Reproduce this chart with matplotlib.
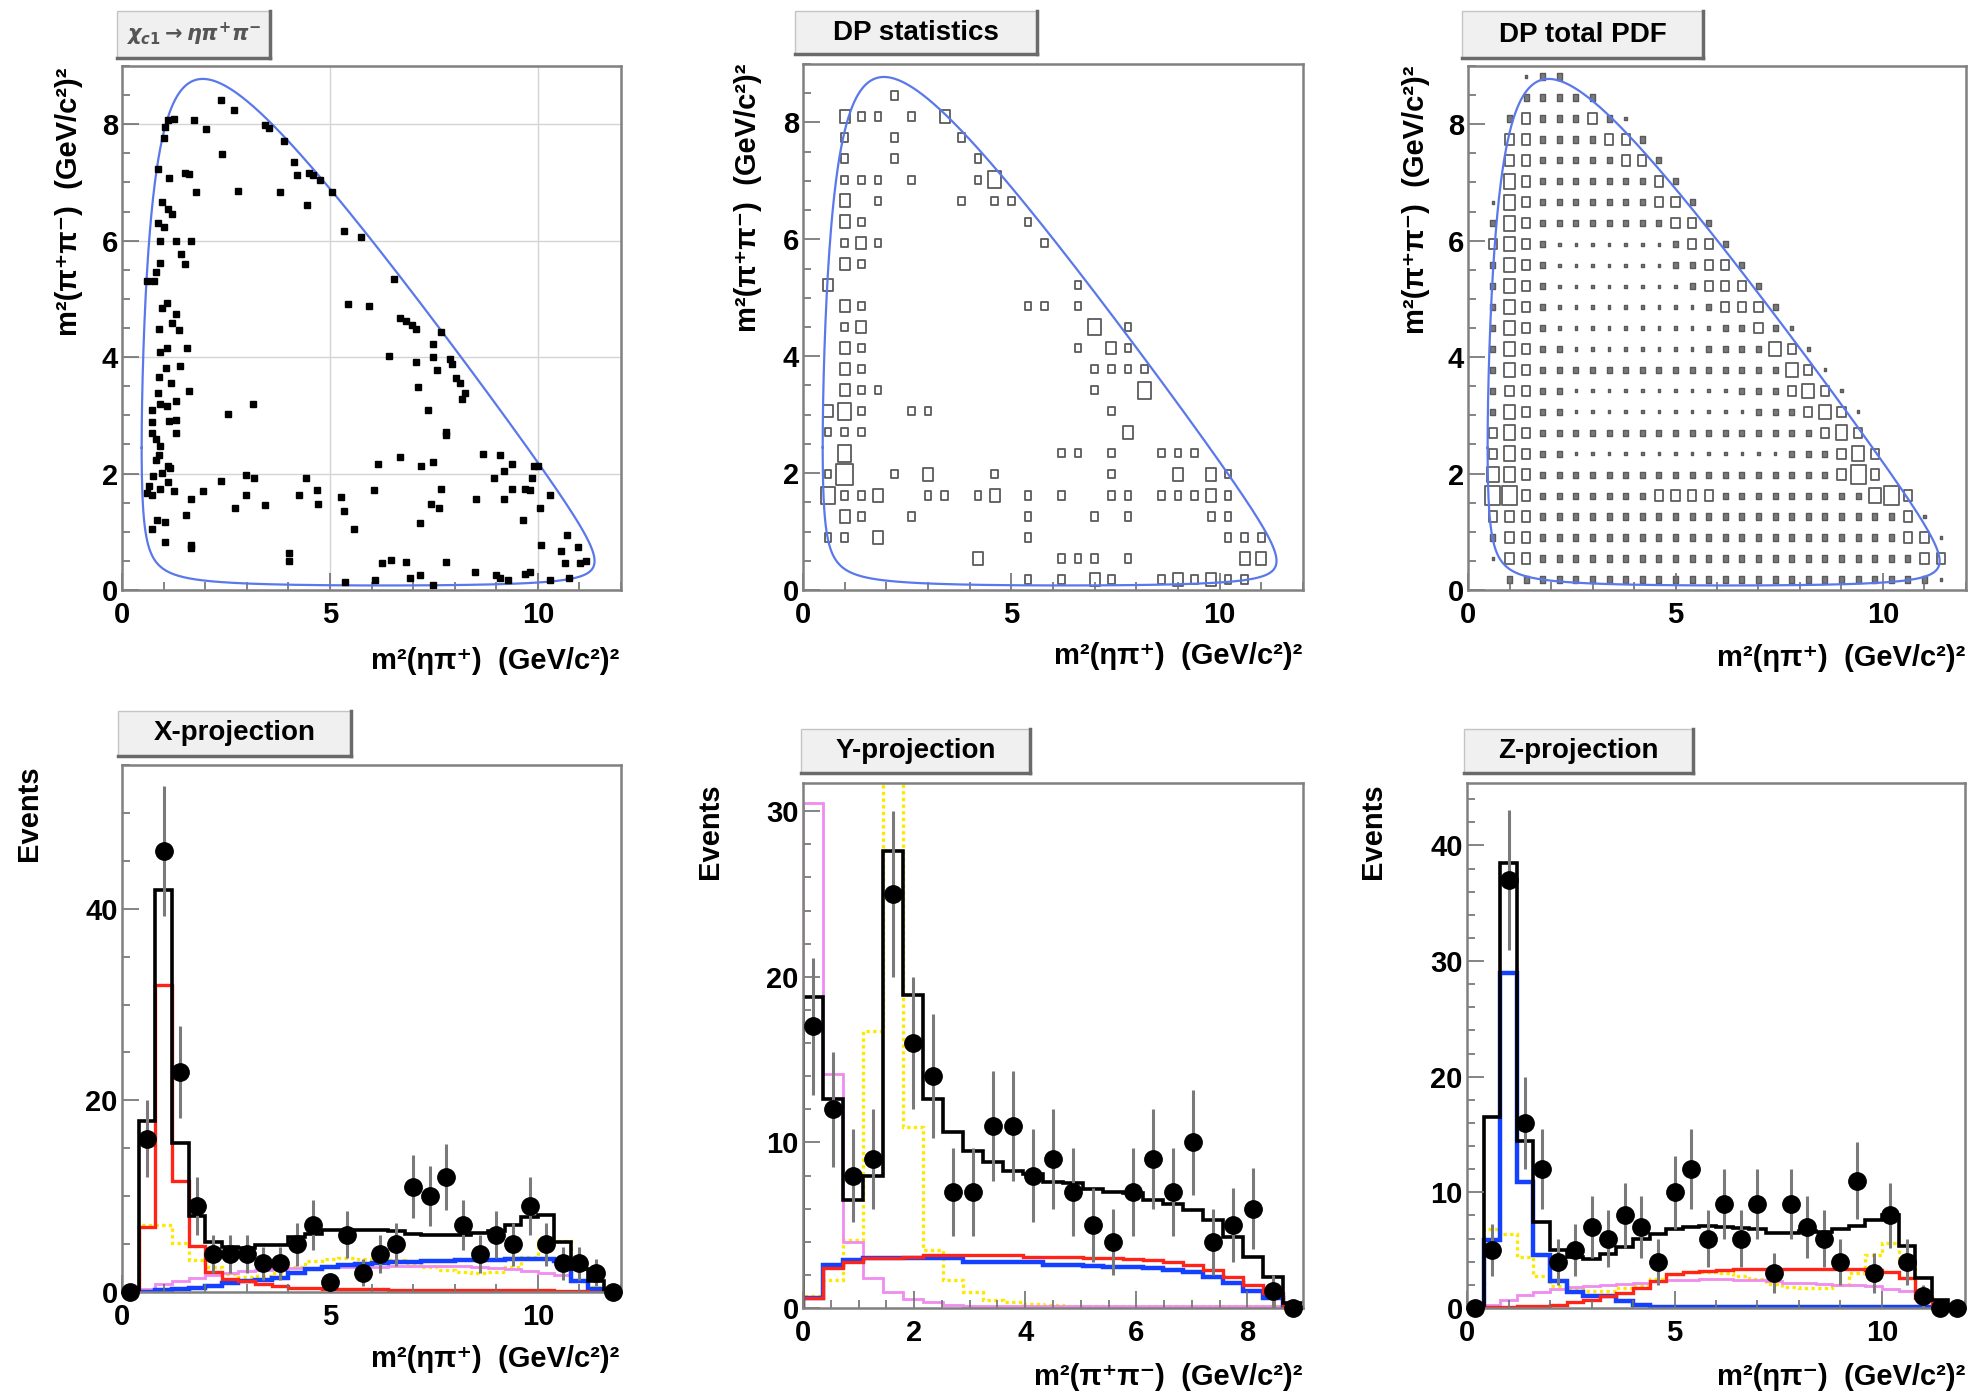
import numpy as np
import matplotlib.pyplot as plt
from matplotlib.patches import Rectangle
from matplotlib.collections import PatchCollection
from matplotlib.lines import Line2D
from matplotlib.ticker import MultipleLocator

plt.rcParams['font.family'] = ['Liberation Sans', 'DejaVu Sans']
plt.rcParams['font.weight'] = 'bold'
plt.rcParams['mathtext.fontset'] = 'dejavusans'

W, H = 1973, 1398

# -------------------------------
# masses for the Dalitz boundary (GeV/c^2)
# -------------------------------
M_CHIC1 = 3.51067
M_ETA = 0.547862
M_PI = 0.139570

# -------------------------------
# selected events: (m2(eta pi+), m2(pi+ pi-))
# -------------------------------
dalitz_events = [
    (2.37, 8.42), (2.69, 8.25), (1.74, 8.08), (2.02, 7.91), (1.11, 8.08), (1.26, 8.09), (1.04, 7.96), (1.01, 7.77),
    (3.43, 7.98), (3.54, 7.94), (3.89, 7.71), (2.40, 7.49), (4.14, 7.35), (4.22, 7.12), (4.60, 7.12), (4.75, 7.04),
    (4.49, 7.16), (0.86, 7.23), (1.14, 7.08), (1.52, 7.16), (1.60, 7.14), (1.79, 6.83), (2.78, 6.85), (3.79, 6.83),
    (4.44, 6.62), (5.05, 6.83), (0.96, 6.66), (1.11, 6.54), (1.21, 6.46), (0.86, 6.31), (1.01, 6.23), (0.91, 6.00),
    (1.31, 6.00), (1.67, 6.00), (1.41, 5.77), (1.52, 5.60), (0.91, 5.62), (0.81, 5.47), (0.76, 5.31), (0.61, 5.30),
    (0.96, 4.85), (1.09, 4.93), (1.29, 4.74), (1.21, 4.58), (1.36, 4.47), (0.89, 4.48), (0.91, 4.08), (1.09, 4.16),
    (1.57, 4.16), (1.39, 3.85), (1.06, 3.82), (0.89, 3.66), (1.19, 3.55), (1.62, 3.41), (0.86, 3.39), (0.71, 3.10),
    (0.91, 3.20), (1.09, 3.16), (1.31, 3.24), (1.13, 2.91), (1.29, 2.92), (0.73, 2.89), (0.71, 2.70), (0.81, 2.59),
    (0.91, 2.47), (1.31, 2.70), (0.89, 2.32), (0.81, 2.24), (1.11, 2.13), (1.16, 2.09), (0.96, 2.01), (0.74, 1.95),
    (1.11, 1.86), (0.66, 1.78), (0.61, 1.67), (0.71, 1.63), (0.91, 1.74), (1.24, 1.70), (1.67, 1.57), (1.94, 1.70),
    (2.37, 1.87), (2.98, 1.97), (3.18, 1.92), (2.98, 1.63), (3.43, 1.46), (2.71, 1.40), (1.55, 1.28), (0.83, 1.21),
    (1.04, 1.17), (0.71, 1.05), (1.03, 0.82), (1.67, 0.77), (1.67, 0.72), (4.01, 0.63), (4.02, 0.49), (2.56, 3.02),
    (3.16, 3.20), (4.42, 1.93), (4.70, 1.72), (4.26, 1.63), (4.72, 1.47), (5.27, 1.59), (5.35, 1.36), (5.59, 1.05),
    (5.37, 0.13), (6.06, 1.72), (6.16, 2.17), (6.69, 2.28), (7.20, 2.13), (7.47, 2.20), (7.68, 1.74), (7.42, 1.47),
    (7.63, 1.40), (7.17, 1.15), (7.78, 0.48), (6.26, 0.46), (6.46, 0.51), (6.82, 0.48), (6.92, 0.21), (7.17, 0.25),
    (7.47, 0.09), (6.09, 0.18), (8.48, 0.31), (8.99, 0.25), (9.09, 0.21), (9.29, 0.17), (9.70, 0.28), (9.80, 0.31),
    (10.30, 0.18), (10.76, 0.21), (8.52, 1.57), (8.69, 2.33), (8.94, 1.93), (9.09, 2.32), (9.19, 2.05), (9.19, 1.57),
    (9.39, 2.17), (9.39, 1.73), (9.70, 1.74), (9.80, 1.72), (9.85, 1.93), (9.90, 2.13), (10.00, 2.13), (9.65, 1.21),
    (10.05, 1.40), (10.30, 1.64), (10.08, 0.77), (10.56, 0.67), (10.71, 0.95), (10.66, 0.46), (10.96, 0.74),
    (11.01, 0.46), (11.16, 0.49), (5.33, 6.17), (5.74, 6.06), (6.55, 5.35), (5.43, 4.91), (5.94, 4.88), (6.69, 4.68),
    (6.82, 4.62), (6.97, 4.55), (7.07, 4.48), (7.66, 4.43), (7.47, 4.22), (7.47, 4.01), (7.58, 3.78), (6.41, 4.02),
    (7.07, 3.92), (7.12, 3.49), (7.37, 3.09), (7.80, 2.72), (7.88, 3.97), (7.93, 3.89), (8.03, 3.64), (8.13, 3.55),
    (8.26, 3.39), (8.18, 3.28), (7.78, 2.66),
]

# -------------------------------
# DP total PDF: box level per bin (30 x-bins of 0.4, 25 y-bins of 0.36), top row first
# -------------------------------
pdf_rows = [
    "000122000000000000000000000000",
    "000222220000000000000000000000",
    "002322232100000000000000000000",
    "003322223320000000000000000000",
    "003322222332000000000000000000",
    "004322222223200000000000000000",
    "014322222223320000000000000000",
    "024322222222332000000000000000",
    "034321111111233200000000000000",
    "024321111111223320000000000000",
    "024321111111123332000000000000",
    "024321111111112333200000000000",
    "024321111111111223210000000000",
    "024322111111112222431000000000",
    "024322222222222222243100000000",
    "023322111111111122234310000000",
    "024322111111111112223431000000",
    "034322222222222222222343000000",
    "034322111111111111122234300000",
    "044322222222222222222235300000",
    "055322222223333222222222453000",
    "033322222222222222222222223100",
    "023322222222222222222222223310",
    "013322222222222222222222222330",
    "002222222222222222222222222210",
]
pdf_box_size = {1: 0.15, 2: 0.3, 3: 0.5, 4: 0.7, 5: 0.9}

# -------------------------------
# X projection: m2(eta pi+), 30 bins in 0..12
# -------------------------------
x_data = [0, 16, 46, 23, 9, 4, 4, 4, 3, 3, 5, 7, 1, 6, 2, 4, 5, 11, 10, 12, 7, 4, 6, 5, 9, 5, 3, 3, 2, 0]
x_total = [0, 17.8, 42.0, 15.6, 7.9, 5.2, 4.7, 4.6, 4.9, 4.9, 5.7, 6.1, 6.5, 6.5, 6.5, 6.5, 6.4, 6.1, 6.0, 6.0,
           5.9, 6.2, 6.4, 7.0, 7.8, 8.0, 5.2, 2.4, 1.2, 0.1]
x_red = [0, 6.8, 32.0, 11.6, 4.8, 2.1, 1.4, 1.2, 0.8, 0.6, 0.45, 0.4, 0.35, 0.3, 0.3, 0.3, 0.25, 0.25, 0.2, 0.2,
         0.2, 0.2, 0.2, 0.2, 0.2, 0.2, 0.15, 0.15, 0, 0]
x_blue = [0, 0.05, 0.2, 0.3, 0.4, 0.6, 0.9, 1.1, 1.3, 1.5, 2.0, 2.4, 2.6, 2.8, 2.9, 3.0, 3.1, 3.15, 3.2, 3.25,
          3.3, 3.3, 3.35, 3.4, 3.4, 3.4, 3.2, 1.2, 0.3, 0]
x_yellow = [0, 7.0, 7.0, 5.1, 3.3, 2.6, 1.9, 1.6, 1.7, 2.0, 2.6, 3.2, 3.4, 3.5, 3.4, 3.3, 3.3, 3.0, 2.6, 2.3,
            2.1, 2.0, 2.1, 2.6, 3.7, 5.3, 5.3, 2.6, 0.5, 0]
x_violet = [0, 0.3, 0.8, 1.2, 1.5, 1.8, 2.0, 2.2, 2.3, 2.4, 2.5, 2.5, 2.6, 2.6, 2.6, 2.6, 2.7, 2.7, 2.7, 2.7,
            2.7, 2.6, 2.5, 2.4, 2.2, 2.0, 1.8, 1.2, 0.4, 0]

# -------------------------------
# Y projection: m2(pi+ pi-), 25 bins in 0..9
# -------------------------------
y_data = [17, 12, 8, 9, 25, 16, 14, 7, 7, 11, 11, 8, 9, 7, 5, 4, 7, 9, 7, 10, 4, 5, 6, 1, 0]
y_total = [18.8, 12.6, 6.5, 8.0, 27.6, 18.9, 12.6, 10.6, 9.5, 8.8, 8.3, 8.1, 7.6, 7.55, 7.2, 7.0, 6.95, 6.5,
           6.3, 5.9, 5.3, 4.3, 3.1, 1.9, 0.3]
y_red = [0.6, 2.4, 2.8, 3.0, 3.0, 3.1, 3.2, 3.2, 3.2, 3.2, 3.2, 3.1, 3.1, 3.1, 3.0, 3.0, 2.95, 2.9, 2.8, 2.6,
         2.3, 1.9, 1.4, 0.9, 0.15]
y_blue = [0.6, 2.6, 2.9, 3.0, 3.0, 3.0, 3.0, 3.0, 2.8, 2.8, 2.75, 2.75, 2.6, 2.6, 2.55, 2.5, 2.5, 2.4, 2.3, 2.2,
          1.9, 1.5, 1.0, 0.6, 0.1]
y_yellow = [0.7, 1.7, 4.1, 16.7, 40.0, 10.9, 3.5, 1.7, 0.95, 0.5, 0.35, 0.25, 0.2, 0.15, 0.1, 0.1, 0.1, 0.1,
            0.1, 0.1, 0.1, 0.1, 0.1, 0.1, 0.05]
y_violet = [30.5, 14.1, 4.0, 1.8, 0.95, 0.55, 0.35, 0.2, 0.15, 0.1, 0.1, 0.1, 0.1, 0.1, 0.1, 0.1, 0.1, 0.1,
            0.1, 0.1, 0.1, 0.1, 0.1, 0.1, 0.05]

# -------------------------------
# Z projection: m2(eta pi-), 30 bins in 0..12
# -------------------------------
z_data = [0, 5, 37, 16, 12, 4, 5, 7, 6, 8, 7, 4, 10, 12, 6, 9, 6, 9, 3, 9, 7, 6, 4, 11, 3, 8, 4, 1, 0, 0]
z_total = [0, 16.5, 38.5, 14.4, 7.4, 5.0, 4.4, 4.2, 4.7, 5.3, 6.0, 6.4, 6.8, 7.0, 7.1, 7.0, 6.9, 6.8, 6.5, 6.5,
           6.7, 6.6, 6.8, 7.1, 7.6, 8.0, 5.4, 2.6, 0.7, 0.3]
z_blue = [0, 5.9, 29.0, 10.9, 4.6, 2.3, 1.4, 1.0, 1.0, 0.6, 0.3, 0.1, 0.1, 0.1, 0.05, 0.05, 0.05, 0.05, 0.05,
          0.05, 0.05, 0.05, 0.05, 0.05, 0.05, 0.05, 0.05, 0.05, 0, 0]
z_red = [0, 0.05, 0.1, 0.15, 0.2, 0.3, 0.5, 0.7, 1.0, 1.3, 1.7, 2.3, 2.9, 3.1, 3.2, 3.3, 3.4, 3.4, 3.4, 3.4,
         3.4, 3.4, 3.4, 3.4, 3.3, 3.1, 2.6, 0.9, 0.2, 0]
z_yellow = [0, 6.8, 6.4, 4.4, 2.8, 1.9, 1.6, 1.5, 1.5, 1.7, 2.0, 2.5, 2.9, 3.1, 3.1, 3.0, 2.8, 2.5, 2.1, 1.8,
            1.7, 1.7, 2.0, 3.0, 4.6, 5.6, 3.9, 1.0, 0.2, 0]
z_violet = [0, 0.3, 0.7, 1.1, 1.4, 1.6, 1.8, 1.9, 2.0, 2.1, 2.2, 2.3, 2.4, 2.4, 2.5, 2.5, 2.4, 2.4, 2.3, 2.2,
            2.2, 2.1, 2.0, 2.0, 1.9, 1.6, 1.5, 1.0, 0.3, 0]

label_etapip = "m²(ηπ⁺)  (GeV/c²)²"
label_pipi = "m²(π⁺π⁻)  (GeV/c²)²"
label_etapim = "m²(ηπ⁻)  (GeV/c²)²"

RED, BLUE, YELLOW, VIOLET = "#ff2418", "#1440ff", "#ffe800", "#ef8cef"
BOUNDARY = "#5a78ea"

fig = plt.figure(figsize=(W / 100, H / 100), dpi=100)


def px_axes(left, top, right, bottom):
    return fig.add_axes([left / W, 1 - bottom / H, (right - left) / W, (bottom - top) / H])


def style_axes(ax, xlim, ylim, xmaj, xmin, ymaj, ymin):
    ax.set_xlim(*xlim)
    ax.set_ylim(*ylim)
    ax.xaxis.set_major_locator(MultipleLocator(xmaj))
    ax.xaxis.set_minor_locator(MultipleLocator(xmin))
    ax.yaxis.set_major_locator(MultipleLocator(ymaj))
    ax.yaxis.set_minor_locator(MultipleLocator(ymin))
    ax.tick_params(which="both", direction="in", top=False, right=False, color="#707070", width=1.2,
                   labelsize=21)
    ax.tick_params(which="major", length=12)
    ax.tick_params(which="minor", length=6)
    ax.tick_params(axis="x", pad=8)
    ax.tick_params(axis="y", pad=3)
    for sp in ax.spines.values():
        sp.set_color("#808080")
        sp.set_linewidth(1.8)


def fig_text(px, py, s, **kw):
    fig.text(px / W, 1 - py / H, s, **kw)


def title_box(left, top, right, bottom, label, **kw):
    fig.add_artist(Rectangle((left / W, 1 - bottom / H), (right - left) / W, (bottom - top) / H,
                             transform=fig.transFigure, facecolor="#f0f0f0", edgecolor="#c4c4c4", lw=1))
    fig.add_artist(Line2D([right / W, right / W], [1 - top / H, 1 - bottom / H],
                          transform=fig.transFigure, color="#6a6a6a", lw=2.5))
    fig.add_artist(Line2D([left / W, right / W], [1 - bottom / H, 1 - bottom / H],
                          transform=fig.transFigure, color="#6a6a6a", lw=2.5))
    fig_text((left + right) / 2, (top + bottom) / 2, label, ha="center", va="center", **kw)


def dalitz_boundary():
    s_min, s_max = (M_ETA + M_PI) ** 2, (M_CHIC1 - M_PI) ** 2
    t = np.linspace(0, np.pi, 800)
    s = s_min + (s_max - s_min) * (1 - np.cos(t)) / 2
    rs = np.sqrt(s)
    e2 = (s - M_ETA ** 2 + M_PI ** 2) / (2 * rs)
    e3 = (M_CHIC1 ** 2 - s - M_PI ** 2) / (2 * rs)
    p2 = np.sqrt(np.clip(e2 ** 2 - M_PI ** 2, 0, None))
    p3 = np.sqrt(np.clip(e3 ** 2 - M_PI ** 2, 0, None))
    hi = (e2 + e3) ** 2 - (p2 - p3) ** 2
    lo = (e2 + e3) ** 2 - (p2 + p3) ** 2
    return np.concatenate([s, s[::-1]]), np.concatenate([hi, lo[::-1]])


def draw_boxes(ax, fracs, xw, yw, color, lw, fill_below=0.0):
    small, big = [], []
    for j, row in enumerate(fracs):
        for i, f in enumerate(row):
            if f > 0:
                cx, cy = (i + 0.5) * xw, (j + 0.5) * yw
                r = Rectangle((cx - f * xw / 2, cy - f * yw / 2), f * xw, f * yw)
                (small if f <= fill_below else big).append(r)
    if small:
        ax.add_collection(PatchCollection(small, facecolor="#7a7a7a", edgecolor="#5a5a5a", linewidths=1.0))
    ax.add_collection(PatchCollection(big, facecolor="none", edgecolor=color, linewidths=lw))


def projection(ax, edges, data, total, red, blue, yellow, violet):
    ax.stairs(yellow, edges, color=YELLOW, lw=2.4, linestyle=(0, (1, 1)), baseline=0)
    ax.stairs(violet, edges, color=VIOLET, lw=2.0, baseline=0)
    ax.stairs(blue, edges, color=BLUE, lw=3.2, baseline=0)
    ax.stairs(red, edges, color=RED, lw=2.4, baseline=0)
    ax.stairs(total, edges, color="black", lw=2.6, baseline=0)
    centers = 0.5 * (edges[1:] + edges[:-1])
    d = np.array(data, dtype=float)
    ax.errorbar(centers, d, yerr=np.sqrt(d), fmt="o", ms=12.5, color="black", ecolor="#7a7a7a",
                elinewidth=2.2, capsize=0, zorder=5, clip_on=False)


bx, by = dalitz_boundary()
ev = np.array(dalitz_events)

# ---- top left: scatter
ax = px_axes(122, 66, 621, 590)
ax.grid(True, which="major", color="#d4d4d4", lw=1)
ax.set_axisbelow(True)
ax.plot(bx, by, color=BOUNDARY, lw=1.6)
ax.plot(ev[:, 0], ev[:, 1], "s", color="black", ms=4.3)
style_axes(ax, (0, 12), (0, 9), 5, 1, 2, 0.5)

# ---- top middle: DP statistics
ax = px_axes(803, 64, 1303, 590)
counts, _, _ = np.histogram2d(ev[:, 0], ev[:, 1], bins=[30, 25], range=[[0, 12], [0, 9]])
counts = counts.T
cmax = counts.max()
stat_frac = np.where(counts > 0, 0.4 + 0.6 * (counts - 1) / max(cmax - 1, 1), 0)
draw_boxes(ax, stat_frac, 0.4, 0.36, "#5a5a5a", 1.3)
ax.plot(bx, by, color=BOUNDARY, lw=1.6)
style_axes(ax, (0, 12), (0, 9), 5, 1, 2, 0.5)

# ---- top right: DP total PDF
ax = px_axes(1468, 66, 1966, 590)
pdf_frac = [[pdf_box_size.get(int(c), 0) for c in row.ljust(30, "0")[:30]] for row in pdf_rows[::-1]]
draw_boxes(ax, pdf_frac, 0.4, 0.36, "#5e5e5e", 1.3, fill_below=0.3)
ax.plot(bx, by, color=BOUNDARY, lw=1.6)
style_axes(ax, (0, 12), (0, 9), 5, 1, 2, 0.5)

# ---- bottom row: projections
edges12 = np.linspace(0, 12, 31)
edges9 = np.linspace(0, 9, 26)

ax = px_axes(122, 765, 621, 1292)
projection(ax, edges12, x_data, x_total, x_red, x_blue, x_yellow, x_violet)
style_axes(ax, (0, 12), (0, 55), 5, 1, 20, 5)

ax = px_axes(803, 783, 1303, 1308)
projection(ax, edges9, y_data, y_total, y_red, y_blue, y_yellow, y_violet)
style_axes(ax, (0, 9), (0, 31.7), 2, 0.5, 10, 2)

ax = px_axes(1467, 783, 1965, 1308)
projection(ax, edges12, z_data, z_total, z_red, z_blue, z_yellow, z_violet)
style_axes(ax, (0, 12), (0, 45.4), 5, 1, 10, 2)

# ---- titles
title_box(117, 11, 270, 58, r"$\chi_{c1}\rightarrow\eta\pi^{+}\pi^{-}$", fontsize=15, color="#555555")
title_box(795, 11, 1037, 54, "DP statistics", fontsize=20, fontweight="bold")
title_box(1462, 11, 1703, 58, "DP total PDF", fontsize=20, fontweight="bold")
title_box(118, 711, 351, 756, "X-projection", fontsize=20, fontweight="bold")
title_box(801, 729, 1030, 773, "Y-projection", fontsize=20, fontweight="bold")
title_box(1464, 729, 1693, 773, "Z-projection", fontsize=20, fontweight="bold")

# ---- axis labels
lab = dict(fontsize=21, fontweight="bold")
fig_text(619, 661, label_etapip, ha="right", va="center", **lab)
fig_text(1302, 656, label_etapip, ha="right", va="center", **lab)
fig_text(1965, 658, label_etapip, ha="right", va="center", **lab)
fig_text(619, 1359, label_etapip, ha="right", va="center", **lab)
fig_text(1302, 1377, label_pipi, ha="right", va="center", **lab)
fig_text(1965, 1377, label_etapim, ha="right", va="center", **lab)

fig_text(69, 67, label_pipi, ha="center", va="top", rotation=90, **lab)
fig_text(748, 64, label_pipi, ha="center", va="top", rotation=90, **lab)
fig_text(1416, 66, label_pipi, ha="center", va="top", rotation=90, **lab)
fig_text(29, 765, "Events", ha="center", va="top", rotation=90, **lab)
fig_text(710, 783, "Events", ha="center", va="top", rotation=90, **lab)
fig_text(1373, 783, "Events", ha="center", va="top", rotation=90, **lab)

fig.savefig("out.png", dpi=100)
